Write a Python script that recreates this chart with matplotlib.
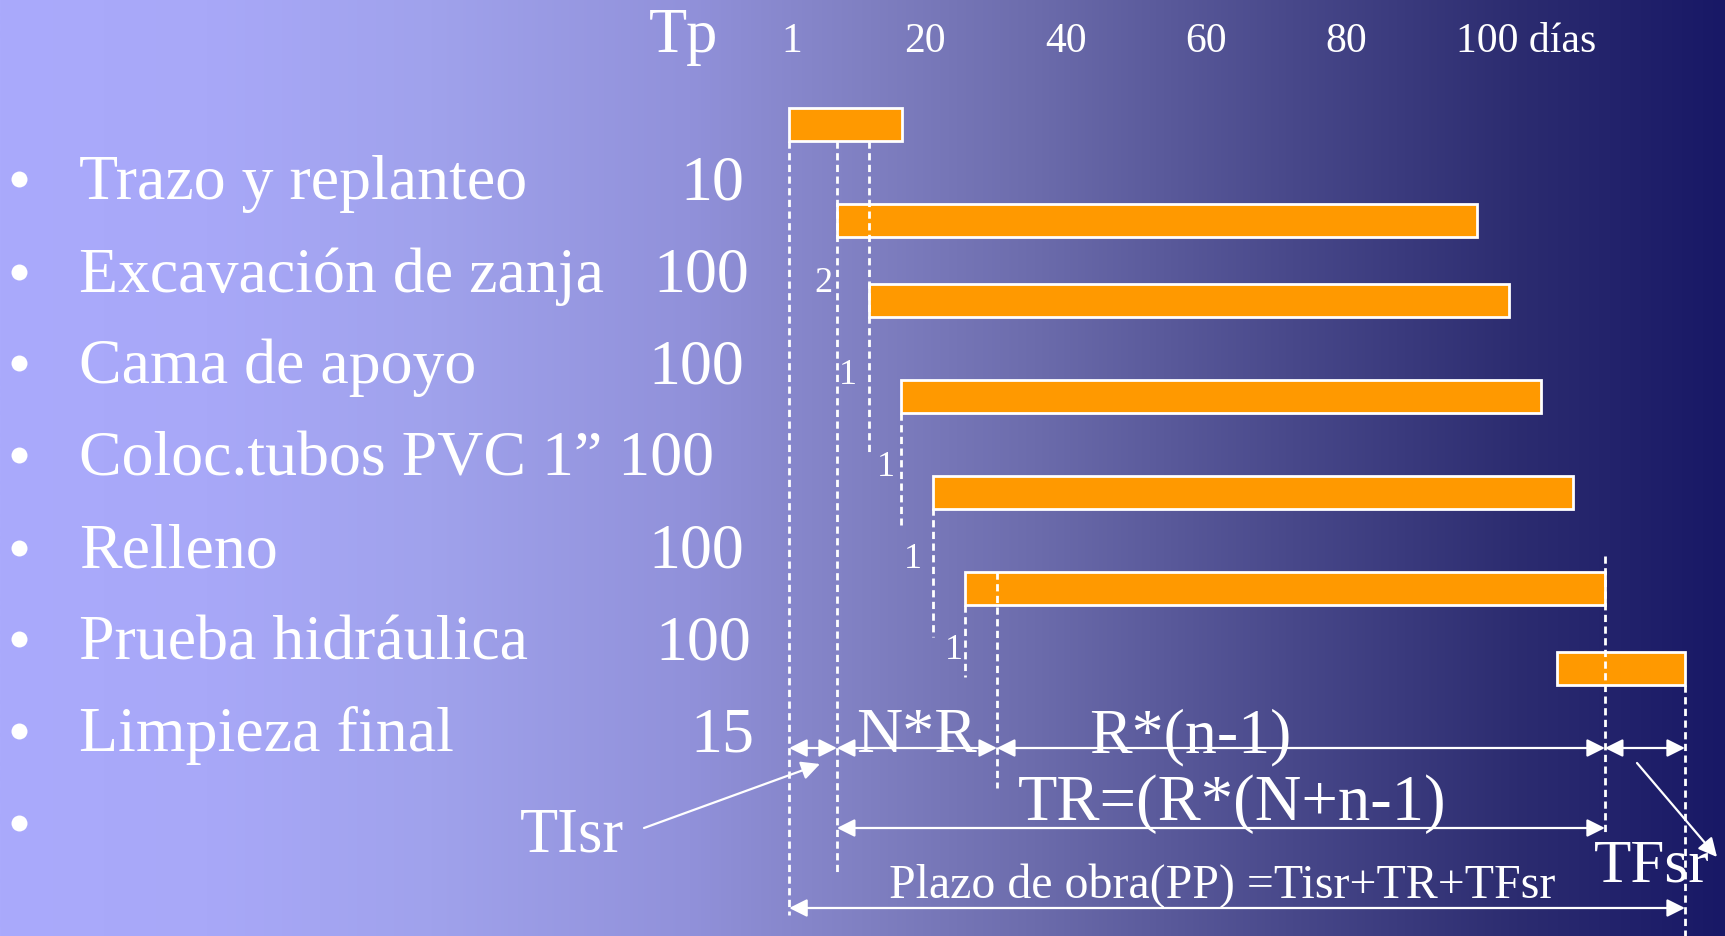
import numpy as np
import matplotlib
matplotlib.use("Agg")
import matplotlib.pyplot as plt

plt.rcParams['font.family'] = ['Liberation Serif', 'DejaVu Serif']

W, H = 1725, 936

# activities and their durations Tp (days)
activities = ["Trazo y replanteo", "Excavación de zanja", "Cama de apoyo",
              "Coloc.tubos PVC 1”", "Relleno", "Prueba hidráulica", "Limpieza final"]
tp = [10, 100, 100, 100, 100, 100, 15]

# bar start / end on the day scale
bar_start = [0.6, 7.4, 12.0, 16.5, 21.1, 25.6, 110.0]
bar_end = [16.7, 98.6, 103.1, 107.7, 112.3, 116.8, 128.2]

# lags between consecutive activities
lags = [2, 1, 1, 1, 1]

day_ticks = [1, 20, 40, 60, 80, 100]
tick_labels = ["1", "20", "40", "60", "80", "100 días"]

# end of the N*R stretch
nr_end = 30.2

# ---- layout ----
bar_y = [124.5, 220, 300.5, 396.5, 492.5, 588.5, 668.5]
bar_h = 33
row_base = [199, 292, 383, 475, 568, 659, 751, 843]
num_right = [744, 749, 744, None, 744, 751, 754]   # None: number follows the text
lag_pos = [(823, 292), (848, 384), (886, 476), (913, 568), (954, 659)]
FS = 46

fig = plt.figure(figsize=(W / 100, H / 100), dpi=100)
ax = fig.add_axes([0, 0, 1, 1])
xlim = (1 - 792 / 7.02, 1 + (W - 792) / 7.02)
ax.axis('off')

# background gradient, light periwinkle to navy
stops = [0.0, 0.12, 0.25, 0.40, 0.50, 0.60, 0.75, 0.88, 1.0]
rgb = np.array([(170, 170, 252), (168, 168, 248), (160, 162, 236), (145, 145, 218),
                (128, 128, 194), (108, 108, 172), (72, 72, 138), (44, 44, 112),
                (24, 24, 102)]) / 255
xs = np.linspace(0, 1, 600)
grad = np.stack([np.interp(xs, stops, rgb[:, i]) for i in range(3)], axis=-1)
ax.imshow(grad[None, :, :], extent=[*xlim, H, 0], aspect='auto', zorder=0)
ax.set_xlim(*xlim)
ax.set_ylim(H, 0)

# gantt bars
widths = [e - s for s, e in zip(bar_start, bar_end)]
ax.barh(bar_y, widths, left=bar_start, height=bar_h, color='#FF9900',
        edgecolor='white', linewidth=2, zorder=2)

# dashed reference lines
dash_x = bar_start[:6] + [nr_end, bar_end[5], bar_end[6]]
dash_top = [141, 141, 141, 413, 508, 605, 572, 556, 685]
dash_bot = [915, 875, 455, 525, 637, 677, 788, 836, 936]
ax.vlines(dash_x, dash_top, dash_bot, colors='white', linewidth=2,
          linestyles=[(0, (2.6, 1.6))], zorder=3)

# header: day scale
for d, lab in zip(day_ticks, tick_labels):
    if lab.startswith("100 "):
        ax.annotate(lab, xy=(d, 52), xytext=(-22.5, 0), textcoords='offset points',
                    ha='left', va='baseline', color='white', fontsize=30)
    else:
        ax.text(d, 52, lab, ha='center', va='baseline', color='white', fontsize=30)


def dim(x0, x1, y):
    ax.annotate('', xy=(x1, y), xytext=(x0, y),
                arrowprops=dict(arrowstyle='<|-|>', color='white', lw=1.6,
                                mutation_scale=27, shrinkA=0, shrinkB=0), zorder=4)


dim(bar_start[0], bar_start[1], 748)
dim(bar_start[1], nr_end, 748)
dim(nr_end, bar_end[5], 748)
dim(bar_end[5], bar_end[6], 748)
dim(bar_start[1], bar_end[5], 828)
dim(bar_start[0], bar_end[6], 908)

# overlay in pixel units for the text
lay = fig.add_axes([0, 0, 1, 1])
lay.set_xlim(0, W)
lay.set_ylim(H, 0)
lay.axis('off')

lay.text(649, 52, "Tp", ha='left', va='baseline', color='white', fontsize=45)

# bullets
lay.plot([19] * len(row_base), [b - 20 for b in row_base], 'o', color='white',
         markersize=11.5, markeredgewidth=0)

for i, base in enumerate(row_base[:len(activities)]):
    if num_right[i] is None:
        lay.text(79, base, f"{activities[i]} {tp[i]}", ha='left', va='baseline',
                 color='white', fontsize=FS)
        continue
    lay.text(79, base, activities[i], ha='left', va='baseline', color='white',
             fontsize=FS)
    lay.text(num_right[i], base, str(tp[i]), ha='right', va='baseline',
             color='white', fontsize=FS)

for (x, y), lg in zip(lag_pos, lags):
    lay.text(x, y, str(lg), ha='center', va='baseline', color='white', fontsize=26)

lay.text(917, 752, "N*R", ha='center', va='baseline', color='white', fontsize=46)
lay.text(1089, 752, "R*(n-1)", ha='left', va='baseline', color='white', fontsize=46)
lay.text(1018, 820, "TR=(R*(N+n-1)", ha='left', va='baseline', color='white', fontsize=46.5)
lay.text(889, 898, "Plazo de obra(PP) =Tisr+TR+TFsr", ha='left', va='baseline',
         color='white', fontsize=34.5)
lay.text(520, 851, "TIsr", ha='left', va='baseline', color='white', fontsize=45)
lay.text(1594, 882, "TFsr", ha='left', va='baseline', color='white', fontsize=44)

arrow = dict(arrowstyle='-|>', color='white', lw=1.6, mutation_scale=28,
             shrinkA=0, shrinkB=0)
lay.annotate('', xy=(820, 764), xytext=(644, 828), arrowprops=arrow)
lay.annotate('', xy=(1717, 857), xytext=(1637, 763), arrowprops=arrow)

fig.savefig("out.png", dpi=100)
